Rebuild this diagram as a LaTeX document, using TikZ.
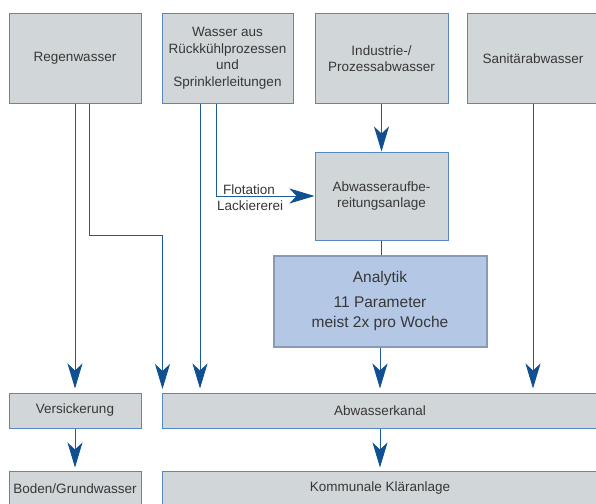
\documentclass[tikz,border=0pt]{standalone}
\usepackage{fontspec}
\setmainfont{Liberation Sans}
\usetikzlibrary{arrows.meta}
\definecolor{boxfill}{RGB}{209, 214, 217}
\definecolor{boxline}{RGB}{88, 136, 196}
\definecolor{analytikfill}{RGB}{180, 200, 230}
\definecolor{analytikline}{RGB}{136, 154, 182}
\definecolor{flowcolor}{RGB}{30, 90, 158}
\definecolor{tipcolor}{RGB}{16, 80, 145}
\definecolor{textcolor}{RGB}{55, 55, 55}
\tikzstyle{source} = [rectangle, draw=boxline, fill=boxfill, line width=1pt, inner sep=0pt, minimum width=132pt, minimum height=89pt, align=center, text=textcolor, font=\fontsize{13.5}{16.5}\selectfont]
\tikzstyle{sink} = [source, minimum height=35pt]
\tikzstyle{analytik} = [rectangle, draw=analytikline, fill=analytikfill, line width=2pt, inner sep=0pt, minimum width=213pt, minimum height=91pt, align=center, text=textcolor, font=\fontsize{15.5}{20}\selectfont]
\tikzstyle{flow} = [draw=flowcolor, line width=0.9pt]
\tikzstyle{arrow} = [flow, -{Stealth[length=25pt, width=15pt, inset=7pt, color=tipcolor]}]
\tikzstyle{lbl} = [text=textcolor, inner sep=0pt, anchor=base west, font=\fontsize{13.5}{16.5}\selectfont]

\begin{document}
\begin{tikzpicture}[x=1pt, y=-1pt]
\useasboundingbox (0,0) rectangle (596,503);
\clip (0,0) rectangle (596,503);

% Quellen
\node (regen) [source] at (75,58.5) {Regenwasser};
\node (wasser) [source, minimum width=131pt] at (227.5,58.5) {Wasser aus\\Rückkühlprozessen\\und\\Sprinklerleitungen};
\node (industrie) [source, minimum width=133pt] at (381.5,58.5) {Industrie-/\\Prozessabwasser};
\node (sanitaer) [source, minimum width=131pt] at (533,58.5) {Sanitärabwasser};

% Aufbereitung
\node (aufb) [source, minimum width=133pt, minimum height=88pt] at (381.5,196) {Abwasseraufbe-\\reitungsanlage};
\node (analytik) [analytik] at (380,301) {Analytik\\[5pt]11 Parameter\\meist 2x pro Woche};

% Ziele
\node (versick) [sink] at (75,410.5) {Versickerung};
\node (kanal) [sink, minimum width=436pt] at (380,410.5) {Abwasserkanal};
\node (boden) [sink] at (75,488.5) {Boden/Grundwasser};
\node (klaer) [sink, minimum width=436pt] at (380,488.5) {Kommunale Kläranlage};

% Knickpunkte
\coordinate (regenknick) at (89,235);
\coordinate (kanalecke) at (162.5,393);

% Pfeile
\draw [arrow, shorten >=4pt] (regen.south) -- (versick.north);
\draw [arrow, shorten >=4pt] ([xshift=14pt]regen.south) -- (regenknick) -| (kanalecke);
\draw [arrow, shorten >=4pt] ([xshift=-27.5pt]wasser.south) -- ([xshift=-27.5pt]wasser.south |- kanal.north);
\draw [arrow] ([xshift=-11.5pt]wasser.south) |- (aufb.west);
\draw [arrow] (industrie.south) -- (aufb.north);
\draw [flow] (aufb.south) -- (aufb.south |- analytik.north);
\draw [arrow, shorten >=4pt] (analytik.south) -- (analytik.south |- kanal.north);
\draw [arrow, shorten >=4pt] (sanitaer.south) -- (sanitaer.south |- kanal.north);
\draw [arrow, shorten >=3pt] (versick.south) -- (boden.north);
\draw [arrow, shorten >=3pt] (kanal.south) -- (klaer.north);

% Labels
\node (flotation) [lbl] at (223,194) {Flotation};
\node (lackiererei) [lbl] at (217,210) {Lackiererei};

\end{tikzpicture}
\end{document}
